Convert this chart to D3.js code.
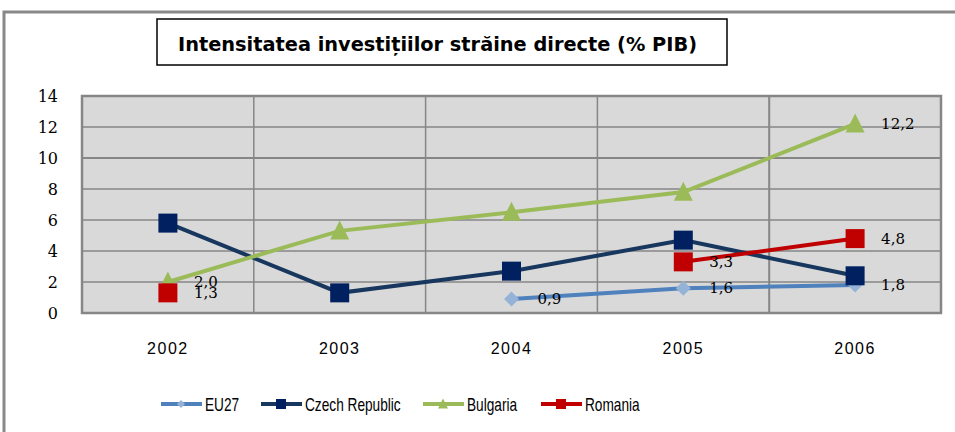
<!DOCTYPE html>
<html>
<head>
<meta charset="utf-8">
<script src="https://cdn.jsdelivr.net/npm/d3@7"></script>
<style>
  body { margin: 0; background: #fff; }
</style>
</head>
<body>
<script>
const years = ["2002", "2003", "2004", "2005", "2006"];
const yTicks = [0, 2, 4, 6, 8, 10, 12, 14];
const eu27 = [null, null, 0.9, 1.6, 1.8];
const czech = [5.8, 1.3, 2.7, 4.7, 2.4];
const bulgaria = [2.0, 5.3, 6.5, 7.8, 12.2];
const romania = [1.3, null, null, 3.3, 4.8];
const seriesNames = ["EU27", "Czech Republic", "Bulgaria", "Romania"];
// which points carry a value label
const eu27Labels = [2, 3, 4];
const czechLabels = [];
const bulgariaLabels = [0, 4];
const romaniaLabels = [0, 3, 4];

const series = [
    {name: seriesNames[0], values: eu27, labels: eu27Labels, line: "#4f81bd", fill: "#95b3d7", shape: "diamond"},
    {name: seriesNames[1], values: czech, labels: czechLabels, line: "#17375e", fill: "#002060", shape: "square"},
    {name: seriesNames[2], values: bulgaria, labels: bulgariaLabels, line: "#9bbb59", fill: "#9bbb59", shape: "triangle"},
    {name: seriesNames[3], values: romania, labels: romaniaLabels, line: "#c00000", fill: "#c00000", shape: "square"}
];

let svg = d3.select("body")
    .append("svg")
    .attr("width", 955)
    .attr("height", 432);

// outer frame
svg.append("path")
    .attr("d", "M4,432 V12 H955")
    .attr("fill", "none")
    .attr("stroke", "#888")
    .attr("stroke-width", 3);

// title box
svg.append("rect")
    .attr("x", 157).attr("y", 19)
    .attr("width", 570).attr("height", 46)
    .attr("fill", "#fff")
    .attr("stroke", "#000")
    .attr("stroke-width", 1.5);
svg.append("text")
    .attr("x", 178).attr("y", 51)
    .attr("font-family", "DejaVu Sans, sans-serif")
    .attr("font-weight", "bold")
    .attr("font-size", 19)
    .attr("textLength", 519)
    .attr("lengthAdjust", "spacingAndGlyphs")
    .text("Intensitatea investițiilor străine directe (% PIB)");

let pLeft = 82, pRight = 941, pTop = 96, pBottom = 313;

let x = d3.scaleBand().domain(years).range([pLeft, pRight]);
let y = d3.scaleLinear().domain([0, 14]).range([pBottom, pTop]);

svg.append("rect")
    .attr("x", pLeft).attr("y", pTop)
    .attr("width", pRight - pLeft).attr("height", pBottom - pTop)
    .attr("fill", "#d9d9d9");

// gridlines
svg.selectAll(".hgrid")
    .data(yTicks)
    .enter()
    .append("line")
    .attr("x1", pLeft).attr("x2", pRight)
    .attr("y1", d => y(d)).attr("y2", d => y(d))
    .attr("stroke", "#868686")
    .attr("stroke-width", d => d == 10 ? 2 : 1.5);
svg.selectAll(".vgrid")
    .data(years.slice(1))
    .enter()
    .append("line")
    .attr("x1", d => x(d)).attr("x2", d => x(d))
    .attr("y1", pTop).attr("y2", pBottom)
    .attr("stroke", "#868686")
    .attr("stroke-width", d => d == "2006" ? 2 : 1.5);
svg.append("rect")
    .attr("x", pLeft).attr("y", pTop)
    .attr("width", pRight - pLeft).attr("height", pBottom - pTop)
    .attr("fill", "none")
    .attr("stroke", "#868686")
    .attr("stroke-width", 2.5);

// axes labels
svg.append("g")
    .attr("transform", `translate(${pLeft - 24},0)`)
    .call(d3.axisLeft(y).tickValues(yTicks).tickSize(0).tickPadding(0))
    .call(g => g.select(".domain").remove())
    .call(g => g.selectAll("text")
        .style("font-family", "'DejaVu Serif', serif")
        .style("font-size", "16px")
        .attr("fill", "#000"));

svg.append("g")
    .attr("transform", `translate(0,${pBottom + 30})`)
    .call(d3.axisBottom(x).tickSize(0).tickPadding(0))
    .call(g => g.select(".domain").remove())
    .call(g => g.selectAll("text")
        .style("font-family", "'Liberation Sans', sans-serif")
        .style("font-size", "16px")
        .style("letter-spacing", "1.5px")
        .attr("fill", "#000"));

let cx = d => x(d) + x.bandwidth() / 2;

function marker(g, shape, fill, size) {
    if (shape == "square") {
        g.append("rect").attr("x", -size / 2).attr("y", -size / 2)
            .attr("width", size).attr("height", size).attr("fill", fill);
    } else if (shape == "triangle") {
        g.append("path").attr("d", `M0,${-size * 0.55} L${size / 2},${size * 0.45} L${-size / 2},${size * 0.45} Z`).attr("fill", fill);
    } else {
        g.append("path").attr("d", `M0,${-size / 2} L${size / 2},0 L0,${size / 2} L${-size / 2},0 Z`).attr("fill", fill);
    }
}

let line = d3.line()
    .defined(d => d.v != null)
    .x(d => cx(d.year))
    .y(d => y(d.v));

series.forEach(s => {
    let pts = years.map((yr, i) => ({year: yr, v: s.values[i]}));
    svg.append("path")
        .datum(pts)
        .attr("d", line)
        .attr("fill", "none")
        .attr("stroke", s.line)
        .attr("stroke-width", 4);
});

series.forEach(s => {
    let pts = years.map((yr, i) => ({year: yr, v: s.values[i], i: i})).filter(d => d.v != null);
    pts.forEach(d => {
        let g = svg.append("g").attr("transform", `translate(${cx(d.year)},${y(d.v)})`);
        marker(g, s.shape, s.fill, s.shape == "diamond" ? 15 : 19);
    });
    svg.selectAll(null)
        .data(pts.filter(d => s.labels.includes(d.i)))
        .enter()
        .append("text")
        .attr("x", d => cx(d.year) + 26)
        .attr("y", d => y(d.v) + 5)
        .style("font-family", "'DejaVu Serif', serif")
        .style("font-size", "15px")
        .text(d => d3.format(".1f")(d.v).replace(".", ","));
});

// legend
let legX = [161, 261, 423, 541];
series.forEach((s, i) => {
    let g = svg.append("g").attr("transform", `translate(${legX[i]},404)`);
    g.append("line").attr("x1", 0).attr("x2", 41).attr("y1", 0).attr("y2", 0)
        .attr("stroke", s.line).attr("stroke-width", 4);
    let m = g.append("g").attr("transform", "translate(20,0)");
    marker(m, s.shape, s.fill, s.shape == "diamond" ? 8 : 10);
    g.append("text")
        .attr("transform", "translate(44,6.5) scale(0.76,1)")
        .style("font-family", "'Liberation Sans', sans-serif")
        .style("font-size", "18px")
        .text(s.name);
});
</script>
</body>
</html>
